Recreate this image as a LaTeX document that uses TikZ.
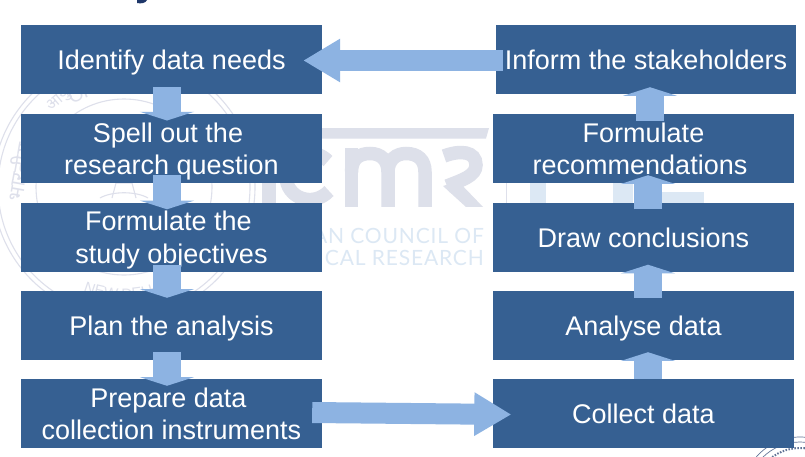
\documentclass[tikz,border=0pt]{standalone}
\usepackage{fontspec}
\setmainfont{Liberation Sans}
\newfontfamily\latofont[LetterSpace=4]{Lato}
\newfontfamily\devafont[Script=Devanagari]{Noto Sans}
\usetikzlibrary{arrows.meta,calc,decorations.text}
\definecolor{boxblue}{RGB}{54,96,146}
\definecolor{arrowblue}{RGB}{141,179,226}
\definecolor{markgrey}{RGB}{221,224,234}
\definecolor{sealgrey}{RGB}{222,224,235}
\definecolor{paleblue}{RGB}{220,232,244}
\definecolor{navy}{RGB}{30,55,105}
\tikzset{
  stagebox/.style={fill=boxblue,text=white,minimum width=301pt,minimum height=69pt,inner sep=0pt,
    font=\fontsize{27}{32.5}\selectfont,align=center,text height=24.5pt,text depth=4.5pt},
  twolines/.style={text height=57pt,text depth=4.6pt},
  vflow/.style={draw=arrowblue,line width=27.5pt,-{Triangle[length=8.7pt,width=54pt]}},
  hflow/.style={draw=arrowblue,line width=21pt,-{Triangle[length=37pt,width=41pt]}},
  sealline/.style={draw=sealgrey,line width=1.1pt},
  sealtext/.style={text=sealgrey},
  icmrstroke/.style={draw=markgrey,line width=13.5pt},
}
\begin{document}
\begin{tikzpicture}[x=1pt,y=-1pt]
\clip (0,0) rectangle (805,456);
\fill[white] (0,0) rectangle (805,456);
% remnant of the slide title
\fill[navy] (137,0) -- (147,0) .. controls (146,3) and (141,4) .. (137,3) -- cycle;
% seal watermark
\begin{scope}[shift={(124,187)},x=1pt,y=1pt]
  \draw[sealline] (0,0) circle[radius=131];
  \draw[sealline] (0,0) circle[radius=126];
  \draw[sealline] (0,0) circle[radius=88];
  \path[postaction={decorate},decoration={text along path,raise=-8pt,text align=center,
    text={|\fontsize{19}{19}\selectfont\color{sealgrey}|OF MEDICAL}}]
    (150:105) arc[start angle=150,end angle=30,radius=105];
  \path[postaction={decorate},decoration={text along path,raise=0pt,text align=center,
    text={|\fontsize{15}{15}\selectfont\color{sealgrey}|NEW DELHI}}]
    (-140:112) arc[start angle=-140,end angle=-40,radius=112];
  \node[sealtext,rotate=80,font=\devafont\fontsize{21}{21}\selectfont] (sealhi) at (172:107) {भारतीय};
  \node[sealtext,rotate=40,font=\devafont\fontsize{16}{16}\selectfont] (sealtop) at (127:108) {आयु};
  \draw[sealline] (-12,-11) -- (-8,4) -- (8,4) -- (12,-11);
  \draw[sealline] (-24,-11) .. controls (-12,-4) and (12,-4) .. (24,-11);
\end{scope}
% icmr mark
\fill[markgrey] (260,128) -- (489,128) -- (486,138.5) -- (260,138.5) -- cycle;
\begin{scope}
  \clip (250,140) rectangle (495,206.5);
  \fill[markgrey] (262,150) rectangle (276,207);
  \draw[icmrstroke] (328,161) .. controls (312,145) and (286,155) .. (286,176)
     .. controls (286,198) and (313,208) .. (329,191);
  \draw[icmrstroke] (351.5,207) -- (351.5,148);
  \draw[icmrstroke] (351.5,172) .. controls (351.5,158) and (360,153.5) .. (370,153.5)
     .. controls (381,153.5) and (388,160) .. (388,172) -- (388,207);
  \draw[icmrstroke] (388,172) .. controls (388,160) and (396,153.5) .. (406,153.5)
     .. controls (418,153.5) and (425,160) .. (425,172) -- (425,207);
  \draw[icmrstroke] (444,156) .. controls (460,150) and (476,151) .. (476,165)
     .. controls (476,176) and (462,180) .. (447,186);
  \fill[markgrey] (443,186) -- (458,181) -- (483,207) -- (466,207) -- cycle;
\end{scope}
\node[anchor=base east,text=paleblue,inner sep=0pt,font=\latofont\fontsize{21}{21}\selectfont] (council) at (484,243.5) {INDIAN COUNCIL OF};
\node[anchor=base east,text=paleblue,inner sep=0pt,font=\latofont\fontsize{21}{21}\selectfont] (research) at (484,265) {MEDICAL RESEARCH};
% NIE mark
\fill[paleblue] (530,182) rectangle (546,204);
\fill[paleblue] (613,182) rectangle (633,204);
\fill[paleblue] (660,192) rectangle (704,204);
\draw[sealgrey,line width=.7pt] (506,183) -- (506,203);
% corner seal
\begin{scope}[shift={(800,495)},x=1pt,y=1pt]
  \draw[navy!70,line width=.7pt] (0,0) circle[radius=58];
  \draw[navy!70,line width=.7pt] (0,0) circle[radius=53];
  \draw[navy!70,line width=2pt,dash pattern=on 1.5pt off 1.5pt] (0,0) circle[radius=47];
\end{scope}
% stages
\node[stagebox] (identify) at (171.5,59.5) {Identify data needs};
\node[stagebox,twolines] (spell) at (171.5,148.5) {Spell out the\hspace*{7pt}\\research question};
\node[stagebox,twolines] (objectives) at (171.5,237) {Formulate the\hspace*{6pt}\\study objectives};
\node[stagebox] (plan) at (171.5,325.5) {Plan the analysis};
\node[stagebox,twolines] (prepare) at (171.5,413.5) {Prepare data\hspace*{6pt}\\collection instruments};
\node[stagebox,minimum width=300pt] (inform) at (646,59.5) {Inform the stakeholders};
\node[stagebox,twolines] (recommend) at (643.5,148.5) {Formulate\\\hspace*{-7pt}recommendations};
\node[stagebox] (conclude) at (643.5,237) {Draw conclusions};
\node[stagebox] (analyse) at (643.5,325.5) {Analyse data};
\node[stagebox] (collect) at (643.5,413.5) {Collect data};
% connectors
\draw[vflow] ($(identify.south)+(-4.5,-7)$) -- ($(spell.north)+(-4.5,6.7)$);
\draw[vflow] ($(spell.south)+(-4.5,-8)$) -- ($(objectives.north)+(-4.5,7)$);
\draw[vflow] ($(objectives.south)+(-4.5,-7)$) -- ($(plan.north)+(-4.5,7)$);
\draw[vflow] ($(plan.south)+(-4.5,-8)$) -- ($(prepare.north)+(-4.5,7)$);
\draw[hflow] ($(prepare.east)+(-10,-1)$) -- ($(collect.west)+(18.5,1)$);
\draw[vflow] ($(collect.north)+(4.5,0)$) -- ($(analyse.south)+(4.5,-8)$);
\draw[vflow] ($(analyse.north)+(4.5,7)$) -- ($(conclude.south)+(4.5,-7)$);
\draw[vflow] ($(conclude.north)+(4.5,7)$) -- ($(recommend.south)+(4.5,-8)$);
\draw[vflow] ($(recommend.north)+(6.5,7)$) -- ($(inform.south)+(4,-7)$);
\draw[hflow] ($(inform.west)+(7,1)$) -- ($(identify.east)+(-19,1)$);
\end{tikzpicture}
\end{document}
